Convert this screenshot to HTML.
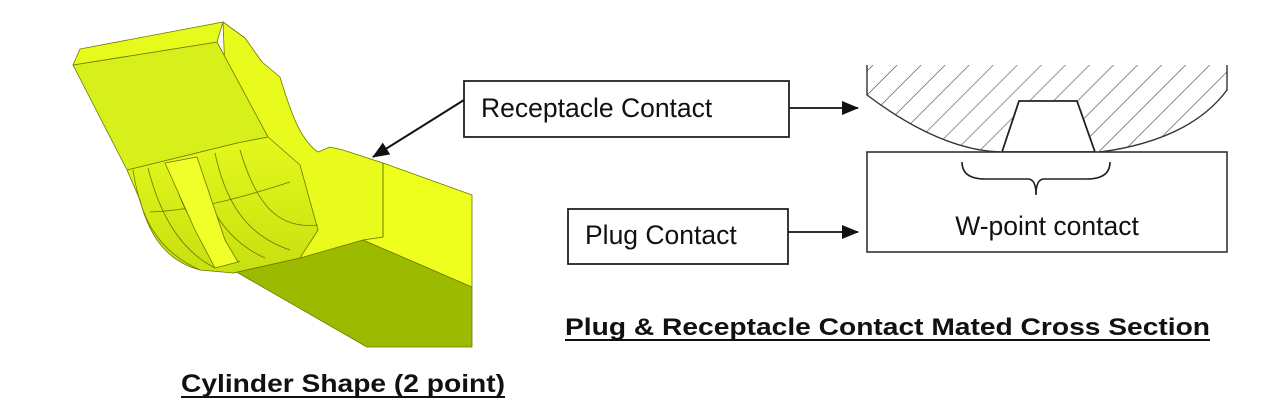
<!DOCTYPE html>
<html><head><meta charset="utf-8"><style>
html,body{margin:0;padding:0;background:#fff;width:1280px;height:410px;overflow:hidden}
svg{display:block}
text{font-family:"Liberation Sans",Arial,sans-serif;fill:#111}
</style></head><body>
<svg width="1280" height="410" viewBox="0 0 1280 410" xmlns="http://www.w3.org/2000/svg">
<defs>
<pattern id="h" width="17" height="17" patternUnits="userSpaceOnUse" patternTransform="rotate(45)">
<line x1="0" y1="0" x2="0" y2="17" stroke="#444" stroke-width="1.2"/>
</pattern>
<marker id="b" markerWidth="18" markerHeight="14" refX="16" refY="7" orient="auto" markerUnits="userSpaceOnUse">
<path d="M0,0 L17,7 L0,14 z" fill="#111"/>
</marker>
<linearGradient id="fg" x1="0" y1="0" x2="0" y2="1">
<stop offset="0" stop-color="#e4f81c"/><stop offset="1" stop-color="#c8e010"/>
</linearGradient>
</defs>

<g stroke="#6b7a00" stroke-width="0.8" stroke-linejoin="round">
<polygon points="233,270 260,263 363,240 472,287 472,347 367,347" fill="#9cbb00"/>
<polygon points="383,163 472,195 472,287 363,240 383,237" fill="#eeff1e"/>
<path d="M223,22 L245,38 L262,62 L280,77 C290,110 300,140 318,152 L330,147 L343,150 L383,163 L383,237 L363,240 L300,258 L233,273 Z" fill="#e8fb1c"/>
<path d="M127,170 L237,143 L268,137 L300,165 L318,230 L300,258 L233,273 L200,270 C170,262 150,240 140,200 Z" fill="url(#fg)"/>
<path d="M133,170 C140,215 155,250 200,270" fill="none"/>
<path d="M148,168 C160,215 180,250 215,268" fill="none"/>
<path d="M170,163 C180,210 200,245 240,262" fill="none"/>
<path d="M195,158 C205,205 225,240 265,258" fill="none"/>
<path d="M215,153 C225,200 245,235 290,250" fill="none"/>
<path d="M240,150 C255,200 275,230 318,225" fill="none"/>
<path d="M150,212 C200,210 250,195 290,182" fill="none"/>
<polygon points="165,163 197,157 225,240 238,262 215,268 195,230" fill="#f0ff2a"/>
<polygon points="73,65 217,42 268,137 237,143 127,170" fill="#d7ef1a"/>
<polygon points="73,65 80,49 223,22 217,42" fill="#e6fa1c"/>
<line x1="383" y1="163" x2="383" y2="237"/>
</g>

<rect x="464" y="81" width="325" height="56" fill="#fff" stroke="#222" stroke-width="1.8"/>
<text x="481" y="117" font-size="26.5">Receptacle Contact</text>
<line x1="464" y1="100" x2="373" y2="157" stroke="#111" stroke-width="2" marker-end="url(#b)"/>
<line x1="789" y1="108" x2="858" y2="108" stroke="#111" stroke-width="1.8" marker-end="url(#b)"/>

<rect x="568" y="209" width="220" height="55" fill="#fff" stroke="#222" stroke-width="1.8"/>
<text x="585" y="244" font-size="26.5">Plug Contact</text>
<line x1="788" y1="232" x2="858" y2="232" stroke="#111" stroke-width="1.8" marker-end="url(#b)"/>

<path d="M867,65 L867,95 Q940,150 1000,152 L1100,152 Q1190,140 1227,90 L1227,65 Z" fill="url(#h)"/>
<path d="M867,65 L867,95 Q940,150 1000,152 M1100,152 Q1190,140 1227,90 L1227,65" fill="none" stroke="#333" stroke-width="1.4"/>
<polygon points="1019,101 1077,101 1095,152 1002,152" fill="#fff" stroke="#222" stroke-width="1.8"/>
<rect x="867" y="152" width="360" height="100" fill="#fff" stroke="#333" stroke-width="1.6"/>
<path d="M962,162 Q962,179 985,179 L1028,179 Q1036,179 1036,195 Q1036,179 1044,179 L1087,179 Q1110,179 1110,162" fill="none" stroke="#222" stroke-width="1.6"/>
<text x="1047" y="235" font-size="26.5" text-anchor="middle">W-point contact</text>

<text x="565" y="335" font-size="24" font-weight="bold" textLength="645" lengthAdjust="spacingAndGlyphs">Plug &amp; Receptacle Contact Mated Cross Section</text>
<line x1="565" y1="340" x2="1210" y2="340" stroke="#111" stroke-width="2"/>
<text x="181" y="392" font-size="25" font-weight="bold" textLength="324" lengthAdjust="spacingAndGlyphs">Cylinder Shape (2 point)</text>
<line x1="181" y1="397" x2="505" y2="397" stroke="#111" stroke-width="2"/>
</svg>
</body></html>
